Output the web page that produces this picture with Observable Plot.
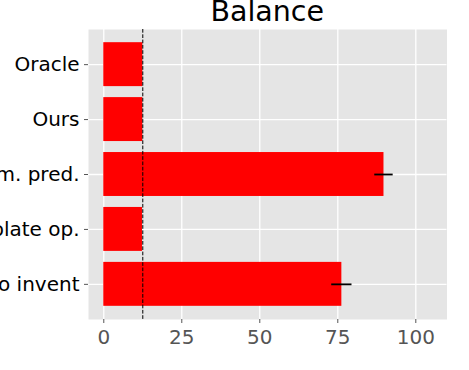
<!DOCTYPE html>
<html>
<head>
<meta charset="utf-8">
<script src="https://cdn.jsdelivr.net/npm/d3@7"></script>
<script src="https://cdn.jsdelivr.net/npm/@observablehq/plot@0.6"></script>
<style>
  html, body { margin: 0; padding: 0; background: white; overflow: hidden; }
  body { width: 469px; height: 370px; font-family: "DejaVu Sans", sans-serif; }
  #title { position: relative; height: 29px; margin-left: 88px; width: 358.5px; text-align: center;
           font-size: 28.5px; line-height: 29px; color: black; }
  #title span { position: relative; top: -3px; }
  #chart svg { display: block; overflow: visible; }
</style>
</head>
<body>
<div id="title"><span>Balance</span></div>
<div id="chart"></div>
<script>
const methods = ["Oracle", "Ours", "Sim. pred.", "Template op.", "No invent"];
const balance = [12.5, 12.5, 89.8, 12.4, 76.3];
const errors  = [0, 0, 2.95, 0, 3.25];
const xTicks  = [0, 25, 50, 75, 100];
const baseline = 12.5;

const data = methods.map((m, i) => ({method: m, value: balance[i], err: errors[i]}));
const errData = data.filter(d => d.err > 0);

const plot = Plot.plot({
  width: 469,
  height: 341,
  marginLeft: 88,
  marginRight: 22.5,
  marginTop: 0,
  marginBottom: 51,
  style: {fontFamily: "DejaVu Sans, sans-serif", fontSize: "20px", background: "transparent", overflow: "visible"},
  x: {domain: [-4.9, 110], ticks: xTicks, tickSize: 4, tickPadding: 6, label: null},
  y: {domain: methods, paddingInner: 0.2, paddingOuter: 0.24, round: false, tickSize: 4, tickPadding: 5, label: null},
  marks: [
    Plot.frame({fill: "#e5e5e5", stroke: "none"}),
    Plot.ruleX(xTicks, {x: d => d, stroke: "white", strokeWidth: 1.3}),
    Plot.ruleY(methods, {y: d => d, stroke: "white", strokeWidth: 1.3}),
    Plot.barX(data, {x: "value", y: "method", fill: "red"}),
    Plot.ruleX([baseline], {x: d => d, stroke: "black", strokeWidth: 1, strokeDasharray: "3.7,1.6"}),
    Plot.ruleY(errData, {y: "method", x1: d => d.value - d.err, x2: d => d.value + d.err, stroke: "black", strokeWidth: 1.8}),
    Plot.axisX({ticks: xTicks, tickSize: 4, tickPadding: 6, stroke: "#555", color: "#555", fontSize: 20, label: null}),
    Plot.axisY({tickSize: 4, tickPadding: 5, stroke: "#555", color: "black", fontSize: 20, label: null})
  ]
});
document.getElementById("chart").appendChild(plot);
</script>
</body>
</html>
